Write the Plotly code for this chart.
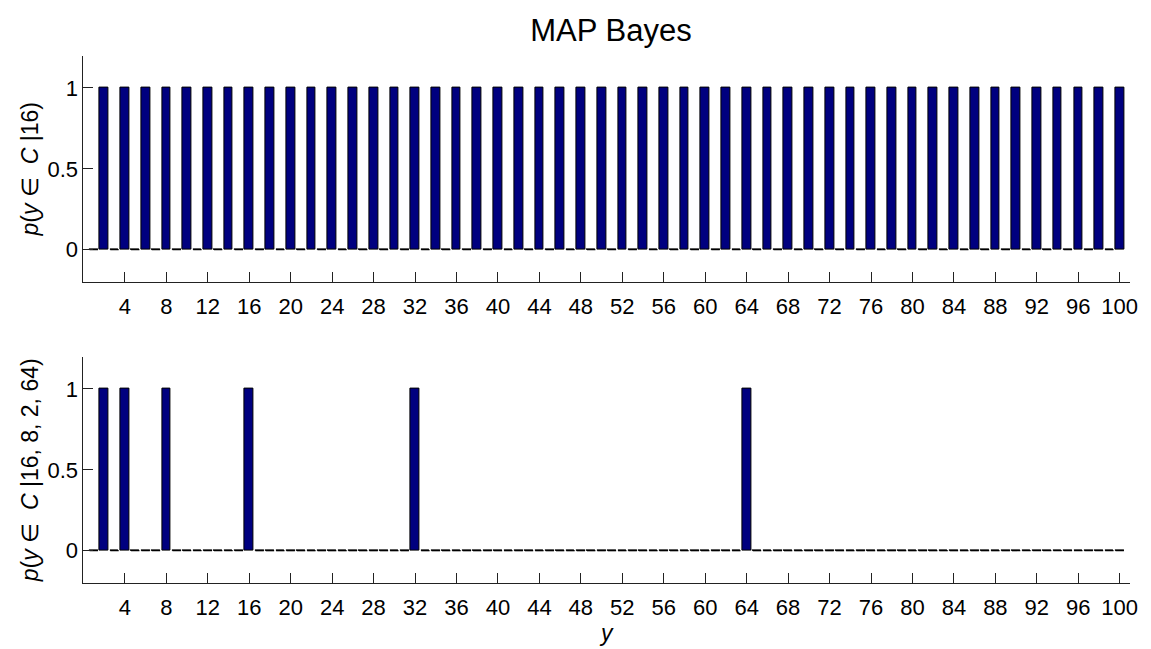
import plotly.graph_objects as go
from plotly.subplots import make_subplots

y_vals = list(range(1, 101))
p_top = [0, 1] * 50
p_bottom = [0, 1, 0, 1, 0, 0, 0, 1, 0, 0,
            0, 0, 0, 0, 0, 1, 0, 0, 0, 0,
            0, 0, 0, 0, 0, 0, 0, 0, 0, 0,
            0, 1, 0, 0, 0, 0, 0, 0, 0, 0,
            0, 0, 0, 0, 0, 0, 0, 0, 0, 0,
            0, 0, 0, 0, 0, 0, 0, 0, 0, 0,
            0, 0, 0, 1, 0, 0, 0, 0, 0, 0,
            0, 0, 0, 0, 0, 0, 0, 0, 0, 0,
            0, 0, 0, 0, 0, 0, 0, 0, 0, 0,
            0, 0, 0, 0, 0, 0, 0, 0, 0, 0]
x_ticks = list(range(4, 101, 4))
y_ticks = [0, 0.5, 1]
y_tick_text = ["0", "0.5", "1"]

W, H = 1151, 649
FONT = "Liberation Sans, Arial, Helvetica, sans-serif"
BAR = "#00007f"

fig = make_subplots(rows=2, cols=1)

for row, vals in ((1, p_top), (2, p_bottom)):
    fig.add_trace(go.Bar(x=y_vals, y=vals, width=0.84, marker_color=BAR,
                         marker_line_color="black", marker_line_width=1,
                         showlegend=False), row=row, col=1)
    zx = [x for x, v in zip(y_vals, vals) if v == 0]
    zy = [v for v in vals if v == 0]
    fig.add_trace(go.Scatter(x=zx, y=zy, mode="markers",
                             marker=dict(symbol="line-ew", size=6,
                                         line=dict(color="black", width=1.3)),
                             showlegend=False, hoverinfo="skip"), row=row, col=1)

xd = [84 / W, 1138 / W]
fig.update_xaxes(range=[0, 101], tickvals=x_ticks, ticks="inside", ticklen=10,
                 showline=True, linecolor="#222", linewidth=1, tickcolor="#222",
                 showgrid=False, zeroline=False, domain=xd, ticklabelstandoff=5,
                 tickfont=dict(size=22, color="black", family=FONT))
fig.update_yaxes(range=[-0.2, 1.2], tickvals=y_ticks, ticktext=y_tick_text,
                 ticks="inside", ticklen=10, showline=True, linecolor="#222",
                 linewidth=1, tickcolor="#222", showgrid=False, zeroline=False,
                 tickfont=dict(size=22, color="black", family=FONT))

fig.update_layout(
    xaxis=dict(anchor="y"),
    xaxis2=dict(anchor="y2",
                title=dict(text="<i>y</i>", font=dict(size=23, color="black", family=FONT),
                           standoff=3)),
    yaxis=dict(domain=[1 - 282 / H, 1 - 55.6 / H],
               title=dict(text="<i>p</i>(<i>y</i> ∈  <i>C</i> |16)",
                          font=dict(size=23, color="black", family=FONT), standoff=2)),
    yaxis2=dict(domain=[1 - 583 / H, 1 - 356.6 / H],
                title=dict(text="<i>p</i>(<i>y</i> ∈  <i>C</i> |16, 8, 2, 64)",
                           font=dict(size=23, color="black", family=FONT), standoff=2)),
    title=dict(text="MAP Bayes", x=611 / W, xanchor="center", y=1 - 30 / H,
               yanchor="middle", font=dict(size=31, color="black", family=FONT)),
    bargap=0,
    width=W, height=H, margin=dict(l=0, r=0, t=0, b=0),
    plot_bgcolor="white", paper_bgcolor="white",
)

fig.write_html("out.html")
